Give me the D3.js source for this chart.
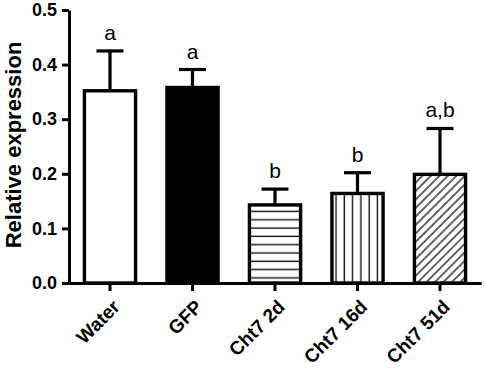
<!DOCTYPE html>
<html lang="en">
<meta charset="utf-8">
<head>
    <script src='https://d3js.org/d3.v7.min.js'></script>
    <style>
        body { margin: 0; background: #fff; }
        text { font-family: Arial, "Liberation Sans", Helvetica, sans-serif; }
    </style>
</head>
<body>
<script>
    // values
    var groups = ["Water", "GFP", "Cht7 2d", "Cht7 16d", "Cht7 51d"];
    var means = [0.352, 0.358, 0.143, 0.164, 0.199];
    var errs = [0.073, 0.033, 0.029, 0.038, 0.084];
    var letters = ["a", "a", "b", "b", "a,b"];
    var yTicks = [0.0, 0.1, 0.2, 0.3, 0.4, 0.5];
    var fills = ["white", "black", "url(#hlines)", "url(#vlines)", "url(#diag)"];

    var width = 484, height = 371;

    var svg = d3.select('body')
        .append("svg")
        .attr("width", width)
        .attr("height", height);

    // hatch patterns
    var defs = svg.append("defs");
    var ph = defs.append("pattern").attr("id", "hlines")
        .attr("patternUnits", "userSpaceOnUse")
        .attr("width", 10).attr("height", 8.3);
    ph.append("rect").attr("width", 10).attr("height", 8.3).attr("fill", "white");
    ph.append("line").attr("x1", 0).attr("x2", 10).attr("y1", 4).attr("y2", 4)
        .attr("stroke", "#111").attr("stroke-width", 1.4);

    var pv = defs.append("pattern").attr("id", "vlines")
        .attr("patternUnits", "userSpaceOnUse")
        .attr("width", 8.3).attr("height", 10);
    pv.append("rect").attr("width", 8.3).attr("height", 10).attr("fill", "white");
    pv.append("line").attr("x1", 4).attr("x2", 4).attr("y1", 0).attr("y2", 10)
        .attr("stroke", "#111").attr("stroke-width", 1.4);

    var pd = defs.append("pattern").attr("id", "diag")
        .attr("patternUnits", "userSpaceOnUse")
        .attr("width", 6).attr("height", 6)
        .attr("patternTransform", "rotate(45)");
    pd.append("rect").attr("width", 6).attr("height", 6).attr("fill", "white");
    pd.append("line").attr("x1", 3).attr("x2", 3).attr("y1", 0).attr("y2", 6)
        .attr("stroke", "#111").attr("stroke-width", 1.3);

    var x = d3.scaleBand()
        .domain(groups)
        .range([68.75, 481.25])
        .paddingInner(0.38)
        .paddingOuter(0.19);

    var y = d3.scaleLinear()
        .domain([0, 0.5])
        .range([283, 10]);

    var data = groups.map(function(g, i) {
        return {group: g, mean: means[i], err: errs[i], letter: letters[i], fill: fills[i]};
    });

    // bars
    svg.selectAll(".bar")
        .data(data)
        .enter()
        .append("rect")
        .attr("class", "bar")
        .attr("x", function(d) { return x(d.group); })
        .attr("y", function(d) { return y(d.mean); })
        .attr("width", x.bandwidth())
        .attr("height", function(d) { return y(0) - y(d.mean); })
        .attr("fill", function(d) { return d.fill; })
        .attr("stroke", "black")
        .attr("stroke-width", 3.4);

    // error bars (upper only)
    var eb = svg.selectAll(".err")
        .data(data)
        .enter()
        .append("g")
        .attr("class", "err");

    eb.append("line")
        .attr("x1", function(d) { return x(d.group) + x.bandwidth() / 2; })
        .attr("x2", function(d) { return x(d.group) + x.bandwidth() / 2; })
        .attr("y1", function(d) { return y(d.mean); })
        .attr("y2", function(d) { return y(d.mean + d.err); })
        .attr("stroke", "black")
        .attr("stroke-width", 3.2);

    eb.append("line")
        .attr("x1", function(d) { return x(d.group) + x.bandwidth() / 2 - 13.5; })
        .attr("x2", function(d) { return x(d.group) + x.bandwidth() / 2 + 13.5; })
        .attr("y1", function(d) { return y(d.mean + d.err); })
        .attr("y2", function(d) { return y(d.mean + d.err); })
        .attr("stroke", "black")
        .attr("stroke-width", 3.2);

    // significance letters
    svg.selectAll(".letter")
        .data(data)
        .enter()
        .append("text")
        .attr("class", "letter")
        .attr("x", function(d) { return x(d.group) + x.bandwidth() / 2; })
        .attr("y", function(d) { return y(d.mean + d.err) - 11; })
        .attr("text-anchor", "middle")
        .style("font-size", "21px")
        .text(function(d) { return d.letter; });

    // y axis
    var yAxis = svg.append("g")
        .attr("transform", "translate(69,0)")
        .call(d3.axisLeft(y)
            .tickValues(yTicks)
            .tickFormat(d3.format(".1f"))
            .tickSizeInner(7)
            .tickSizeOuter(0)
            .tickPadding(5));
    yAxis.selectAll("path, line").attr("stroke", "black").attr("stroke-width", 3);
    yAxis.selectAll("text")
        .style("font-size", "18px")
        .style("font-weight", "bold")
        .attr("fill", "black");

    // x axis
    var xAxis = svg.append("g")
        .attr("transform", "translate(0,283)")
        .call(d3.axisBottom(x).tickSizeInner(8).tickSizeOuter(0));
    xAxis.selectAll("path, line").attr("stroke", "black").attr("stroke-width", 3);
    xAxis.selectAll("text")
        .attr("text-anchor", "end")
        .attr("transform", "translate(1,15) rotate(-45)")
        .attr("x", 0)
        .attr("y", 0)
        .attr("dy", "0.75em")
        .style("font-size", "19px")
        .style("font-weight", "bold")
        .attr("fill", "black");

    svg.append("text")
        .attr("transform", "translate(21,145) rotate(-90)")
        .attr("text-anchor", "middle")
        .style("font-size", "22px")
        .style("font-weight", "bold")
        .text("Relative expression");
</script>
</body>
</html>
